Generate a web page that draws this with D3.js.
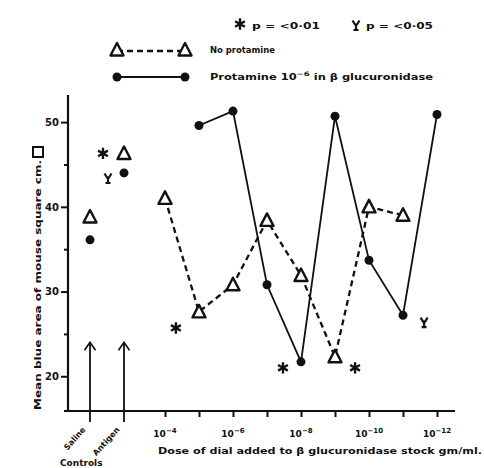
<!DOCTYPE html>
<html>
<head>
<meta charset="utf-8">
<script src="https://cdn.jsdelivr.net/npm/d3@7"></script>
<style>
  body { margin: 0; background: #fff; }
  text { font-family: "DejaVu Sans", sans-serif; font-weight: bold; fill: #111; }
</style>
</head>
<body>
<div id="vis"></div>
<script>
// dose exponents (10^-n) and the two series
const doses = [1e-4, 1e-5, 1e-6, 1e-7, 1e-8, 1e-9, 1e-10, 1e-11, 1e-12];
const noProtamine = [41.0, 27.6, 30.8, 38.4, 31.9, 22.3, 40.0, 39.0, null];
const protamine = [null, 49.6, 51.3, 30.8, 21.7, 50.7, 33.7, 27.2, 50.9];

// controls
const controls = ['Saline', 'Antigen'];
const controlNoProtamine = [38.8, 46.3];
const controlProtamine = [36.1, 44.0];

// significance marks: star = p<0.01, cup = p<0.05 (placed in data units)
const sigStars = [[Math.pow(10, -4.32), 25.7], [Math.pow(10, -7.47), 21.0], [Math.pow(10, -9.59), 21.0]];
const sigCups = [[Math.pow(10, -11.62), 26.4]];
const controlSig = [{ type: 'star', v: 46.3 }, { type: 'cup', v: 43.4 }];

const yMajor = [20, 30, 40, 50];
const yMinor = [25, 35, 45];
const arrowTop = 24;

const svg = d3.select('#vis')
  .append('svg')
  .attr('width', 484)
  .attr('height', 468);

const y = d3.scaleLinear().domain([15.9, 53.2]).range([411, 95]);
const x = d3.scaleLog().domain([1e-4, 1e-12]).range([165, 437]);
const xc = d3.scalePoint().domain(controls).range([90, 124]);

// axes lines
svg.append('line')
  .attr('x1', 68).attr('x2', 68)
  .attr('y1', y.range()[1]).attr('y2', y.range()[0] + 1)
  .attr('stroke', '#111').attr('stroke-width', 2.2);
svg.append('line')
  .attr('x1', 64).attr('x2', 455)
  .attr('y1', 411).attr('y2', 411)
  .attr('stroke', '#111').attr('stroke-width', 2.2);

// y axis ticks
const yAxisMajor = svg.append('g')
  .attr('transform', 'translate(68,0)')
  .call(d3.axisLeft(y).tickValues(yMajor).tickSize(7).tickPadding(2));
const yAxisMinor = svg.append('g')
  .attr('transform', 'translate(68,0)')
  .call(d3.axisLeft(y).tickValues(yMinor).tickSize(4).tickFormat(''));
[yAxisMajor, yAxisMinor].forEach(g => {
  g.select('.domain').remove();
  g.selectAll('line').attr('stroke', '#111').attr('stroke-width', 2);
});
yAxisMajor.selectAll('text')
  .style('font-size', '10px')
  .style('font-family', '"DejaVu Sans", sans-serif')
  .style('font-weight', 'bold')
  .attr('fill', '#111');

// x axis ticks
const xAxis = svg.append('g')
  .attr('transform', 'translate(0,411)')
  .call(d3.axisBottom(x).tickValues(doses).tickSize(6).tickFormat(''));
xAxis.select('.domain').remove();
xAxis.selectAll('line').attr('stroke', '#111').attr('stroke-width', 2);

svg.selectAll('.xlab')
  .data(doses.filter((d, i) => i % 2 === 0))
  .enter()
  .append('text')
  .attr('class', 'xlab')
  .attr('x', d => x(d))
  .attr('y', 437)
  .attr('text-anchor', 'middle')
  .style('font-size', '9px')
  .each(function (d) {
    const t = d3.select(this);
    t.append('tspan').text('10');
    t.append('tspan')
      .attr('dy', -4)
      .style('font-size', '7px')
      .text('\u2212' + Math.round(-Math.log10(d)));
  });

svg.append('text')
  .attr('x', 158).attr('y', 454)
  .attr('textLength', 324).attr('lengthAdjust', 'spacingAndGlyphs')
  .style('font-size', '9px')
  .text('Dose of dial added to \u03b2 glucuronidase stock gm/ml.');

// y label
svg.append('text')
  .attr('transform', 'translate(41,410) rotate(-90)')
  .attr('textLength', 250).attr('lengthAdjust', 'spacingAndGlyphs')
  .style('font-size', '8px')
  .text('Mean blue area of mouse square cm.');
svg.append('rect')
  .attr('x', 33).attr('y', 147).attr('width', 10).attr('height', 10)
  .attr('fill', 'none').attr('stroke', '#111').attr('stroke-width', 2);

// control arrows
svg.append('defs').append('marker')
  .attr('id', 'arrow')
  .attr('viewBox', '0 0 12 12')
  .attr('refX', 11).attr('refY', 6)
  .attr('markerWidth', 12).attr('markerHeight', 12)
  .attr('markerUnits', 'userSpaceOnUse')
  .attr('orient', 'auto')
  .append('path')
  .attr('d', 'M3,0.5 L11,6 L3,11.5')
  .attr('fill', 'none').attr('stroke', '#111').attr('stroke-width', 1.7);

svg.selectAll('.ctl-arrow')
  .data(controls)
  .enter()
  .append('line')
  .attr('class', 'ctl-arrow')
  .attr('x1', d => xc(d)).attr('x2', d => xc(d))
  .attr('y1', 422).attr('y2', y(arrowTop))
  .attr('stroke', '#111').attr('stroke-width', 1.8)
  .attr('marker-end', 'url(#arrow)');

svg.selectAll('.ctl-label')
  .data(controls)
  .enter()
  .append('text')
  .attr('class', 'ctl-label')
  .attr('transform', d => `translate(${xc(d) - 4},430) rotate(-48)`)
  .attr('text-anchor', 'end')
  .style('font-size', '8px')
  .text(d => d);

svg.append('text')
  .attr('x', 60).attr('y', 466)
  .style('font-size', '9px')
  .text('Controls');

// marker shapes
const triPath = 'M0,-7 L6.5,5.5 L-6.5,5.5 Z';
const starPath = d3.symbol(d3.symbolAsterisk, 90)();
const cupPath = 'M-3.5,-4.5 L-1,-0.5 L0,-0.5 L1,-0.5 L3.5,-4.5 M0,-0.5 L0,5 M-2.5,5 L2.5,5';

function drawTri(sel) {
  sel.attr('d', triPath)
    .attr('fill', '#fff').attr('stroke', '#111').attr('stroke-width', 2.4)
    .attr('stroke-linejoin', 'round');
}
function drawDot(sel) {
  sel.attr('r', 4.5).attr('fill', '#111');
}
function drawStar(sel) {
  sel.attr('d', starPath).attr('fill', 'none').attr('stroke', '#111').attr('stroke-width', 2.4);
}
function drawCup(sel) {
  sel.attr('d', cupPath).attr('fill', 'none').attr('stroke', '#111').attr('stroke-width', 2.2);
}

// lines
const triData = doses.map((d, i) => [d, noProtamine[i]]).filter(p => p[1] !== null);
const dotData = doses.map((d, i) => [d, protamine[i]]).filter(p => p[1] !== null);
const line = d3.line().x(p => x(p[0])).y(p => y(p[1]));

svg.append('path')
  .datum(triData)
  .attr('d', line)
  .attr('fill', 'none').attr('stroke', '#111')
  .attr('stroke-width', 2.3).attr('stroke-dasharray', '6,4');
svg.append('path')
  .datum(dotData)
  .attr('d', line)
  .attr('fill', 'none').attr('stroke', '#111').attr('stroke-width', 1.8);

svg.selectAll('.tri')
  .data(triData)
  .enter()
  .append('path')
  .attr('class', 'tri')
  .attr('transform', p => `translate(${x(p[0])},${y(p[1])})`)
  .call(drawTri);
svg.selectAll('.dot')
  .data(dotData)
  .enter()
  .append('circle')
  .attr('class', 'dot')
  .attr('cx', p => x(p[0])).attr('cy', p => y(p[1]))
  .call(drawDot);

// control points
svg.selectAll('.ctri')
  .data(controls)
  .enter()
  .append('path')
  .attr('class', 'ctri')
  .attr('transform', (d, i) => `translate(${xc(d)},${y(controlNoProtamine[i])})`)
  .call(drawTri);
svg.selectAll('.cdot')
  .data(controls)
  .enter()
  .append('circle')
  .attr('class', 'cdot')
  .attr('cx', d => xc(d))
  .attr('cy', (d, i) => y(controlProtamine[i]))
  .call(drawDot);

// significance marks
svg.selectAll('.sig-star')
  .data(sigStars)
  .enter()
  .append('path')
  .attr('class', 'sig-star')
  .attr('transform', p => `translate(${x(p[0])},${y(p[1])})`)
  .call(drawStar);
svg.selectAll('.sig-cup')
  .data(sigCups)
  .enter()
  .append('path')
  .attr('class', 'sig-cup')
  .attr('transform', p => `translate(${x(p[0])},${y(p[1])})`)
  .call(drawCup);
svg.selectAll('.csig')
  .data(controlSig)
  .enter()
  .append('path')
  .attr('class', 'csig')
  .attr('transform', (d, i) => `translate(${xc('Antigen') - (i === 0 ? 21 : 16)},${y(d.v)})`)
  .each(function (d) {
    d3.select(this).call(d.type === 'star' ? drawStar : drawCup);
  });

// legend
svg.append('path').attr('transform', 'translate(240,24)').call(drawStar);
svg.append('text').attr('x', 252).attr('y', 29)
  .attr('textLength', 68).attr('lengthAdjust', 'spacingAndGlyphs')
  .style('font-size', '9px').text('p = <0\u00b701');
svg.append('path').attr('transform', 'translate(356,25)').call(drawCup);
svg.append('text').attr('x', 366).attr('y', 29)
  .attr('textLength', 67).attr('lengthAdjust', 'spacingAndGlyphs')
  .style('font-size', '9px').text('p = <0\u00b705');

svg.append('line')
  .attr('x1', 117).attr('x2', 185).attr('y1', 51).attr('y2', 51)
  .attr('stroke', '#111').attr('stroke-width', 2.3).attr('stroke-dasharray', '6,4');
svg.selectAll('.ltri')
  .data([117, 185])
  .enter()
  .append('path')
  .attr('class', 'ltri')
  .attr('transform', d => `translate(${d},50)`)
  .call(drawTri);
svg.append('text').attr('x', 210).attr('y', 53)
  .attr('textLength', 65).attr('lengthAdjust', 'spacingAndGlyphs')
  .style('font-size', '8px').text('No protamine');

svg.append('line')
  .attr('x1', 117).attr('x2', 185).attr('y1', 77).attr('y2', 77)
  .attr('stroke', '#111').attr('stroke-width', 1.8);
svg.selectAll('.ldot')
  .data([117, 185])
  .enter()
  .append('circle')
  .attr('class', 'ldot')
  .attr('cx', d => d).attr('cy', 77)
  .call(drawDot);
const legText = svg.append('text').attr('x', 210).attr('y', 80)
  .attr('textLength', 223).attr('lengthAdjust', 'spacingAndGlyphs')
  .style('font-size', '8px');
legText.append('tspan').text('Protamine 10');
legText.append('tspan').attr('dy', -4).style('font-size', '6px').text('\u22126');
legText.append('tspan').attr('dy', 4).text(' in \u03b2 glucuronidase');
</script>
</body>
</html>
